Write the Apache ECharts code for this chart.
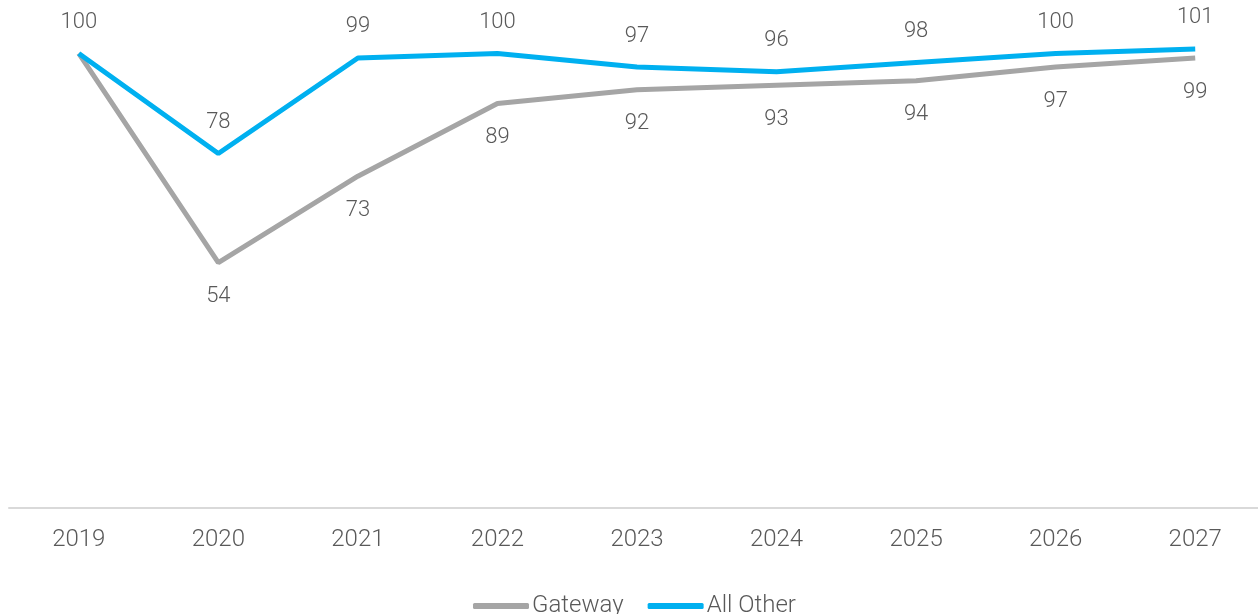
<!DOCTYPE html>
<html>
<head>
<meta charset="utf-8">
<script src="https://cdn.jsdelivr.net/npm/echarts@6/dist/echarts.min.js"></script>
<style>
html,body{margin:0;padding:0;background:#fff;}
#chart{width:1258px;height:614px;}
</style>
</head>
<body>
<div id="chart"></div>
<script>
const categories = ['2019','2020','2021','2022','2023','2024','2025','2026','2027'];
const gateway = [100, 54, 73, 89, 92, 93, 94, 97, 99];
const allOther = [100, 78, 99, 100, 97, 96, 98, 100, 101];
const seriesNames = ['Gateway', 'All Other'];

const chart = echarts.init(document.getElementById('chart'), null, {renderer: 'canvas'});
const font = 'Roboto';
const textColor = '#595959';

chart.setOption({
  animation: false,
  backgroundColor: '#fff',
  grid: {left: 9, top: 8, width: 1256, height: 500, containLabel: false, outerBoundsMode: 'none'},
  legend: {
    data: seriesNames.map(n => ({name: n, icon: 'roundRect'})),
    left: 468,
    top: 589,
    itemWidth: 56,
    itemHeight: 6,
    itemGap: 24,
    textStyle: {fontFamily: font, fontWeight: 300, fontSize: 24, color: textColor, padding: [0,0,0,-2]}
  },
  xAxis: {
    type: 'category',
    data: categories,
    boundaryGap: true,
    axisLine: {show: true, lineStyle: {color: '#d9d9d9', width: 2}},
    axisTick: {show: false},
    axisLabel: {fontFamily: font, fontWeight: 300, fontSize: 24, color: textColor, margin: 20}
  },
  yAxis: {
    type: 'value', min: 0, max: 110,
    show: false,
    splitLine: {show: false}
  },
  series: [
    {
      name: seriesNames[0],
      type: 'line',
      data: gateway.map((v, i) => i === 0 ? {value: v, label: {show: false}} : v),
      symbol: 'circle',
      symbolSize: 0.1,
      showSymbol: true,
      lineStyle: {color: '#a5a5a5', width: 5},
      itemStyle: {color: '#a5a5a5'},
      label: {show: true, position: 'bottom', distance: 23, fontFamily: font, fontWeight: 300, fontSize: 22, color: textColor}
    },
    {
      name: seriesNames[1],
      type: 'line',
      data: allOther,
      symbol: 'circle',
      symbolSize: 0.1,
      showSymbol: true,
      lineStyle: {color: '#00b0f0', width: 5},
      itemStyle: {color: '#00b0f0'},
      label: {show: true, position: 'top', distance: 20, fontFamily: font, fontWeight: 300, fontSize: 22, color: textColor}
    }
  ]
});
</script>
</body>
</html>
